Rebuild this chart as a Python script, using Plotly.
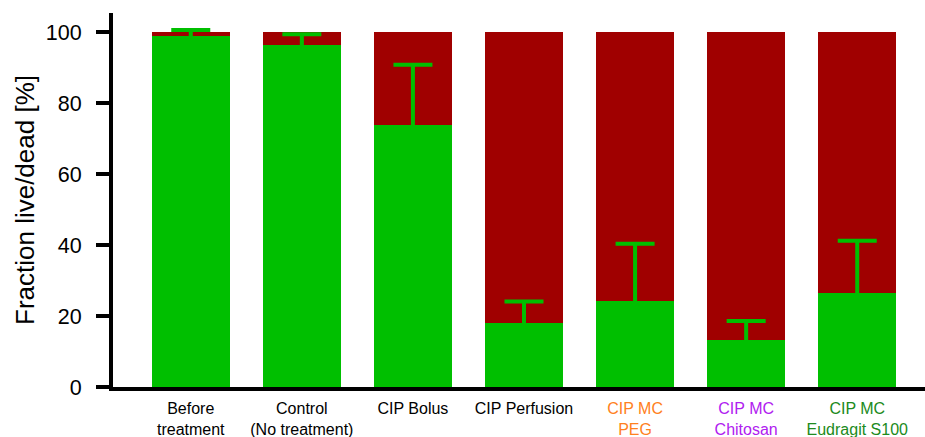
import plotly.graph_objects as go

categories = ["Before<br>treatment", "Control<br>(No treatment)", "CIP Bolus", "CIP Perfusion",
              "CIP MC<br>PEG", "CIP MC<br>Chitosan", "CIP MC<br>Eudragit S100"]
label_colors = ["#000000", "#000000", "#000000", "#000000", "#FF8020", "#B020F0", "#208A20"]
live = [98.9, 96.4, 73.9, 17.9, 24.3, 13.2, 26.4]
live_err = [1.7, 3.0, 16.9, 6.2, 16.1, 5.4, 14.8]
dead = [100 - v for v in live]

xs = list(range(len(categories)))
ticktext = [f'<span style="color:{c}">{t}</span>' for t, c in zip(categories, label_colors)]

GREEN = "#00BF00"
RED = "#A00000"
# sink the (unwanted) lower cap of each one-sided error bar just inside the green segment
CAP_SINK = 0.6
err_base = [v - CAP_SINK for v in live]
err_up = [e + CAP_SINK for e in live_err]

fig = go.Figure()
fig.add_trace(go.Bar(x=xs, y=live, marker=dict(color=GREEN, line=dict(width=0)),
                     width=0.70, name="live"))
fig.add_trace(go.Bar(x=xs, y=dead, marker=dict(color=RED, line=dict(width=0)),
                     width=0.70, name="dead"))
fig.add_trace(go.Scatter(x=xs, y=err_base, mode="markers", marker=dict(opacity=0, size=1),
                         error_y=dict(type="data", symmetric=False, array=err_up,
                                      arrayminus=[0] * len(live), color=GREEN,
                                      thickness=4, width=19.5),
                         hoverinfo="skip"))

fig.update_layout(
    barmode="stack",
    width=925, height=437,
    margin=dict(l=113, r=0, t=13, b=50),
    plot_bgcolor="white", paper_bgcolor="white",
    showlegend=False,
    font=dict(family="Liberation Sans, Arial, sans-serif", color="black"),
)
fig.update_xaxes(
    range=[-0.70, 6.61],
    tickmode="array", tickvals=xs, ticktext=ticktext,
    tickfont=dict(size=16),
    showline=True, linecolor="black", linewidth=4,
    ticks="", showgrid=False, zeroline=False,
    ticklabelstandoff=4, automargin=False,
)
fig.update_yaxes(
    range=[0, 105.4],
    tickvals=[0, 20, 40, 60, 80, 100],
    tickfont=dict(size=21.5),
    showline=True, linecolor="black", linewidth=4,
    ticks="outside", ticklen=13, tickwidth=4, tickcolor="black",
    showgrid=False, zeroline=False,
    title=dict(text="Fraction live/dead [%]", font=dict(size=26), standoff=5),
    ticklabelstandoff=10, automargin=False,
)

fig.write_html("out.html")
